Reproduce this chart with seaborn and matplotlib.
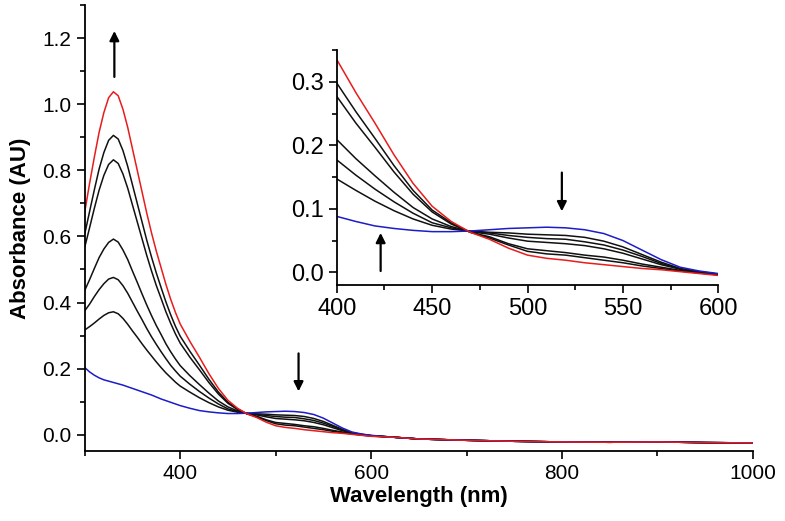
import numpy as np
import pandas as pd
import matplotlib
matplotlib.use('Agg')
import matplotlib.pyplot as plt
import seaborn as sns
from matplotlib.ticker import MultipleLocator

# wavelengths (nm) of the read-off points, 300-600 nm where the curves differ
wl = [300, 305, 310, 315, 320, 325, 330, 335, 340, 345, 350, 355, 360, 365,
      370, 375, 380, 385, 390, 395,
      400, 410, 420, 430, 440, 450, 460, 470, 480, 490,
      500, 510, 520, 530, 540, 550, 560, 570, 580, 590, 600]

# above 600 nm all spectra lie on top of each other
wl_tail = [625, 650, 700, 750, 800, 850, 900, 950, 1000]
abs_tail = [-0.008, -0.013, -0.017, -0.020, -0.022, -0.023, -0.022, -0.024, -0.025]

abs_start = [0.203, 0.190, 0.180, 0.172, 0.166, 0.162, 0.158, 0.154, 0.150, 0.145,
             0.140, 0.135, 0.130, 0.125, 0.120, 0.114, 0.108, 0.103, 0.098, 0.093,
             0.088, 0.080, 0.073, 0.069, 0.066, 0.064, 0.064, 0.065, 0.067, 0.069,
             0.070, 0.071, 0.070, 0.067, 0.061, 0.050, 0.035, 0.020, 0.008, 0.002, -0.002]
abs_t1 = [0.317, 0.327, 0.338, 0.350, 0.361, 0.369, 0.372, 0.366, 0.352, 0.334,
          0.314, 0.295, 0.275, 0.256, 0.238, 0.220, 0.203, 0.187, 0.173, 0.159,
          0.147, 0.129, 0.112, 0.097, 0.084, 0.074, 0.068, 0.065, 0.063, 0.062,
          0.060, 0.059, 0.058, 0.055, 0.049, 0.040, 0.028, 0.016, 0.006, 0.001, -0.003]
abs_t2 = [0.375, 0.395, 0.418, 0.439, 0.457, 0.471, 0.476, 0.469, 0.451, 0.428,
          0.401, 0.374, 0.348, 0.321, 0.296, 0.273, 0.251, 0.230, 0.210, 0.193,
          0.177, 0.153, 0.131, 0.111, 0.093, 0.078, 0.070, 0.064, 0.062, 0.058,
          0.055, 0.053, 0.052, 0.048, 0.043, 0.035, 0.025, 0.014, 0.005, 0.001, -0.003]
abs_t3 = [0.437, 0.469, 0.503, 0.536, 0.562, 0.582, 0.592, 0.583, 0.559, 0.530,
          0.495, 0.461, 0.426, 0.392, 0.360, 0.330, 0.303, 0.275, 0.251, 0.229,
          0.209, 0.179, 0.152, 0.126, 0.102, 0.084, 0.072, 0.064, 0.060, 0.054,
          0.049, 0.047, 0.045, 0.042, 0.037, 0.030, 0.021, 0.012, 0.005, 0.000, -0.003]
abs_t4 = [0.568, 0.626, 0.685, 0.740, 0.785, 0.818, 0.832, 0.821, 0.789, 0.746,
          0.695, 0.644, 0.593, 0.542, 0.495, 0.451, 0.412, 0.372, 0.337, 0.305,
          0.277, 0.235, 0.197, 0.158, 0.123, 0.095, 0.076, 0.063, 0.056, 0.045,
          0.037, 0.034, 0.031, 0.027, 0.024, 0.019, 0.013, 0.008, 0.003, -0.001, -0.004]
abs_t5 = [0.608, 0.675, 0.741, 0.804, 0.854, 0.891, 0.906, 0.895, 0.860, 0.812,
          0.756, 0.700, 0.644, 0.588, 0.537, 0.489, 0.445, 0.402, 0.363, 0.328,
          0.298, 0.253, 0.211, 0.168, 0.129, 0.098, 0.078, 0.063, 0.054, 0.043,
          0.033, 0.029, 0.027, 0.023, 0.019, 0.015, 0.010, 0.006, 0.002, -0.001, -0.004]
abs_end = [0.675, 0.760, 0.840, 0.915, 0.975, 1.020, 1.038, 1.026, 0.985, 0.930,
           0.865, 0.800, 0.735, 0.670, 0.610, 0.555, 0.505, 0.455, 0.410, 0.370,
           0.335, 0.283, 0.235, 0.185, 0.140, 0.104, 0.080, 0.063, 0.052, 0.038,
           0.027, 0.022, 0.019, 0.015, 0.012, 0.009, 0.006, 0.004, 0.001, -0.002, -0.005]

series = {'t1': abs_t1, 't2': abs_t2, 't3': abs_t3, 't4': abs_t4, 't5': abs_t5,
          'start': abs_start, 'end': abs_end}
colors = {'t1': '#111111', 't2': '#111111', 't3': '#111111', 't4': '#111111',
          't5': '#111111', 'start': '#1c1cc8', 'end': '#e81c1c'}

rows = []
for name, vals in series.items():
    for x, y in zip(wl + wl_tail, vals + abs_tail):
        rows.append({'wl': x, 'A': y, 'scan': name})
df = pd.DataFrame(rows)

sns.set_theme(style='ticks')
plt.rcParams['font.family'] = ['Liberation Sans', 'DejaVu Sans']

fig = plt.figure(figsize=(7.85, 5.21), dpi=100)
ax = fig.add_axes([0.108, 0.134, 0.851, 0.856])
ins = fig.add_axes([0.429, 0.453, 0.486, 0.451])


def draw(a, sub):
    sns.lineplot(data=sub, x='wl', y='A', hue='scan', palette=colors,
                 hue_order=list(series.keys()), estimator=None, legend=False,
                 linewidth=1.1, ax=a)


def style(a, fs):
    sns.despine(ax=a)
    for s in ('left', 'bottom'):
        a.spines[s].set_linewidth(1.3)
        a.spines[s].set_color('black')
    a.tick_params(which='major', direction='out', length=6, width=1.2,
                  labelsize=fs, colors='black')
    a.tick_params(which='minor', direction='out', length=3.5, width=1.2,
                  colors='black')
    a.set_xlabel('')
    a.set_ylabel('')


draw(ax, df)
ax.set_xlim(300, 1000)
ax.set_ylim(-0.05, 1.3)
ax.xaxis.set_major_locator(MultipleLocator(200))
ax.xaxis.set_minor_locator(MultipleLocator(100))
ax.yaxis.set_major_locator(MultipleLocator(0.2))
ax.yaxis.set_minor_locator(MultipleLocator(0.1))
style(ax, 15)
ax.set_xticks([400, 600, 800, 1000])
ax.set_xlabel('Wavelength (nm)', fontsize=16, fontweight='bold', labelpad=2,
              color='black')
ax.set_ylabel('Absorbance (AU)', fontsize=16, fontweight='bold', labelpad=8,
              color='black')

draw(ins, df[(df['wl'] >= 400) & (df['wl'] <= 600)])
ins.set_xlim(400, 600)
ins.set_ylim(-0.02, 0.35)
ins.xaxis.set_major_locator(MultipleLocator(50))
ins.xaxis.set_minor_locator(MultipleLocator(25))
ins.yaxis.set_major_locator(MultipleLocator(0.1))
ins.yaxis.set_minor_locator(MultipleLocator(0.05))
style(ins, 17)
ins.patch.set_alpha(0)

arrow = dict(arrowstyle='-|>', color='black', lw=1.6, mutation_scale=14,
             shrinkA=0, shrinkB=0)
ax.annotate('', xy=(331, 1.222), xytext=(331, 1.083), arrowprops=arrow)
ax.annotate('', xy=(524, 0.131), xytext=(524, 0.246), arrowprops=arrow)
ins.annotate('', xy=(518, 0.096), xytext=(518, 0.157), arrowprops=arrow)
ins.annotate('', xy=(423, 0.062), xytext=(423, 0.002), arrowprops=arrow)

fig.savefig('out.png', dpi=100)
